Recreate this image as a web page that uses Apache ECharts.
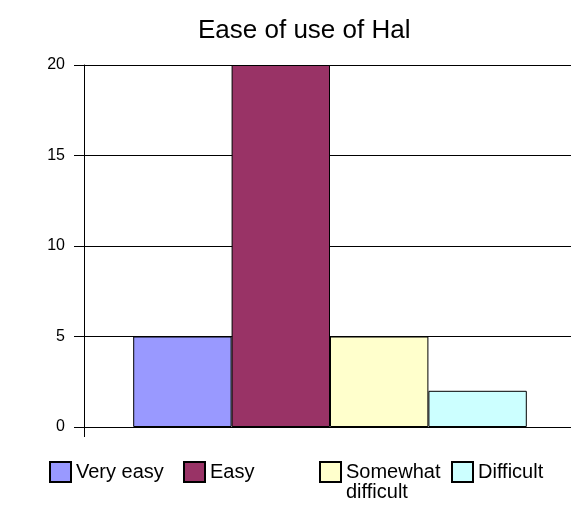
<!DOCTYPE html>
<html>
<head>
<meta charset="utf-8">
<title>Ease of use of Hal</title>
<script src="https://cdn.jsdelivr.net/npm/echarts@6/dist/echarts.min.js"></script>
<style>
  html, body { margin: 0; padding: 0; background: #fff; }
  #chart { width: 571px; height: 505px; }
</style>
</head>
<body>
<div id="chart"></div>
<script>
// 图表数据
const categories = ["Very easy", "Easy", "Somewhat difficult", "Difficult"];
const counts = [5, 20, 5, 2];
const yTicks = [0, 5, 10, 15, 20];

// 颜色
const colors = ["#9999ff", "#993366", "#ffffcc", "#ccffff"];
const font = "'Liberation Sans', Arial, sans-serif";

const chart = echarts.init(document.getElementById("chart"));

// 每个分类一个系列，柱子紧挨着
const series = categories.map((name, i) => ({
  type: "bar",
  name: name,
  data: [counts[i]],
  barGap: "0%",
  barCategoryGap: "20%",
  itemStyle: { color: colors[i], borderColor: "#000", borderWidth: 1 },
  emphasis: { disabled: true },
}));

// 图例位置（单独放置），"Somewhat difficult" 第二行用 graphic 文本
const legendLeft = [49, 183, 319, 451];
const legend = categories.map((name, i) => ({
  data: [name],
  left: legendLeft[i],
  top: 461,
  padding: 0,
  itemWidth: 21,
  itemHeight: 20,
  icon: "rect",
  selectedMode: false,
  formatter: (n) => n.split(" difficult")[0],
  textStyle: { fontFamily: font, fontSize: 20, color: "#000" },
}));

const option = {
  animation: false,
  backgroundColor: "#fff",
  title: {
    text: "Ease of use of Hal",
    left: 193,
    top: 13,
    textStyle: { fontFamily: font, fontSize: 26, fontWeight: "normal", color: "#000" },
  },
  legend: legend,
  graphic: [
    {
      type: "text",
      left: 346,
      top: 482,
      style: { text: "difficult", fontFamily: font, fontSize: 20, fill: "#000" },
    },
  ],
  // 绘图区右侧超出画布
  grid: {
    left: 84,
    top: 65,
    width: 492,
    height: 362,
    containLabel: false,
    outerBoundsMode: "none",
  },
  xAxis: {
    type: "category",
    data: [""],
    axisLine: { show: true, lineStyle: { color: "#000", width: 1 } },
    axisTick: { show: true, length: 10, lineStyle: { color: "#000" } },
    axisLabel: { show: false },
    splitLine: { show: false },
  },
  yAxis: {
    type: "value",
    min: yTicks[0],
    max: yTicks[yTicks.length - 1],
    interval: yTicks[1] - yTicks[0],
    axisLine: { show: true, lineStyle: { color: "#000", width: 1 } },
    axisTick: { show: true, length: 10, lineStyle: { color: "#000" } },
    axisLabel: { fontFamily: font, fontSize: 16, color: "#000", margin: 19 },
    splitLine: { show: true, lineStyle: { color: "#000", width: 1 } },
  },
  series: series,
};

chart.setOption(option);
</script>
</body>
</html>
